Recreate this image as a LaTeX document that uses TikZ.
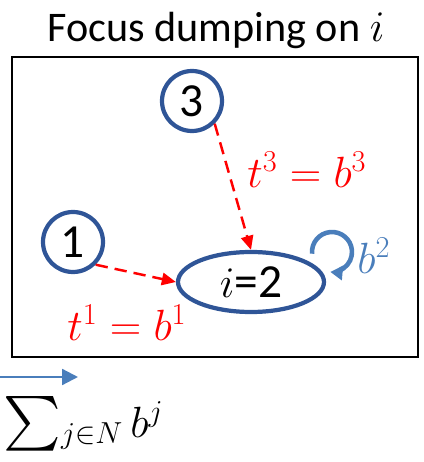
\documentclass[tikz,border=0pt]{standalone}
\usepackage{fontspec}
\setmainfont{Carlito}
\usepackage{amsmath}
\usepackage{graphicx}
\usetikzlibrary{arrows.meta,shapes.geometric}

\definecolor{nodoazul}{RGB}{47,85,151}
\definecolor{lazoazul}{RGB}{74,126,187}
\definecolor{rojo}{RGB}{255,0,0}

\tikzset{
  agente/.style={circle, draw=nodoazul, line width=2.4pt, minimum size=1.2cm, inner sep=0pt, font=\fontsize{27}{30}\selectfont},
  foco/.style={ellipse, draw=nodoazul, line width=2.4pt, minimum width=2.92cm, minimum height=1.2cm, inner sep=0pt, font=\fontsize{27}{30}\selectfont},
  pago/.style={rojo, line width=1.4pt, dash pattern=on 7pt off 4pt, -{Triangle[length=8pt,width=7pt]}},
  etiqueta/.style={font=\fontsize{23}{26}\selectfont}
}

\begin{document}
\begin{tikzpicture}[x=0.2mm,y=0.2mm]
	\useasboundingbox (0,0) rectangle (423,462);
	
	% Titulo
	\node[font=\fontsize{24}{28}\selectfont] (titulo) at (216,432) {Focus dumping on $i$};
	
	% Marco
	\draw[line width=1.4pt] (12,105) rectangle (418,405);
	
	% Nodos
	\node[agente] (n3) at (192,361) {3};
	\node[agente] (n1) at (73,220) {1};
	\node[foco] (n2) at (251,180) {$i$=2};
	
	% Transferencias
	\draw[pago] (n3.-45) -- (n2.north);
	\draw[pago] (n1.-45) -- (n2.west);
	\node[etiqueta, rojo] (t3) at (307,292) {$t^3 = b^3$};
	\node[etiqueta, rojo] (t1) at (127,139) {$t^1 = b^1$};
	
	% Lazo propio
	\coordinate (lazo) at (332,210);
	\draw[lazoazul, line width=2.6pt, -{Triangle[length=7pt,width=8pt]}] (lazo) ++(185:20) arc (185:-95:20);
	\node[etiqueta, lazoazul, anchor=west, inner sep=0pt] (b2) at (357,206) {$b^2$};
	
	% Flecha inferior y suma
	\coordinate (ini) at (0,85);
	\coordinate (fin) at (78,85);
	\draw[lazoazul, line width=1.3pt, -{Triangle[length=9pt,width=9pt]}] (ini) -- (fin);
	\node[font=\fontsize{25}{28}\selectfont, anchor=base west, inner sep=0pt] (suma) at (3,25)
	  {$\mathord{\scalebox{1.25}{$\sum$}}{}_{j\in N}\, b^j$};
\end{tikzpicture}
\end{document}
